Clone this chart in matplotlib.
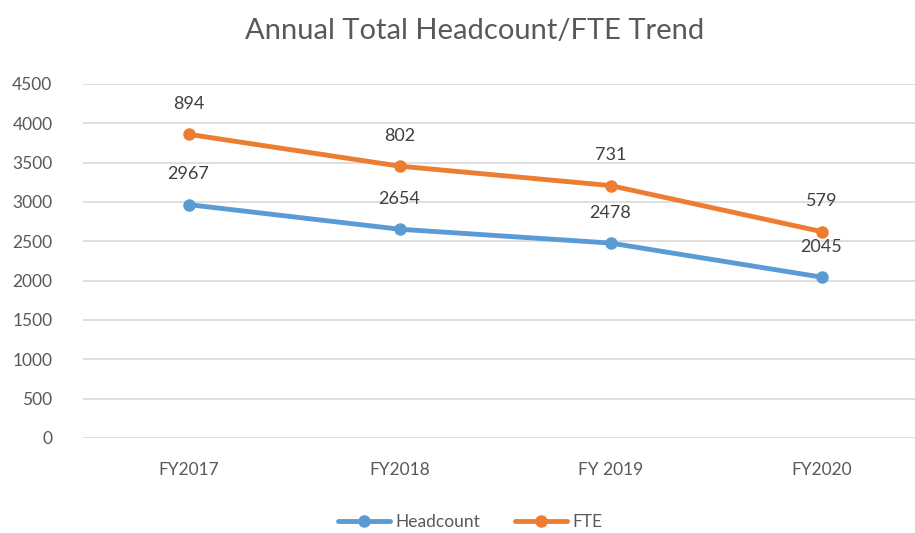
import numpy as np
import matplotlib
matplotlib.use("Agg")
import matplotlib.pyplot as plt

plt.rcParams['font.family'] = ['Lato', 'DejaVu Sans']

# Data (FTE series is stacked on top of Headcount, labels show raw values)
categories = ["FY2017", "FY2018", "FY 2019", "FY2020"]
headcount = [2967, 2654, 2478, 2045]
fte = [894, 802, 731, 579]

TEXT = '#595959'
BLUE = '#5B9BD5'
ORANGE = '#ED7D31'

fig = plt.figure(figsize=(9.15, 5.33), dpi=100)
ax = fig.add_axes([83 / 915, 1 - 438 / 533, 844 / 915, 354 / 533])

x = np.arange(len(categories))
fte_stacked = np.array(headcount) + np.array(fte)

ax.plot(x, headcount, color=BLUE, lw=3.5, marker='o', ms=8, label='Headcount',
        solid_capstyle='round', zorder=3)
ax.plot(x, fte_stacked, color=ORANGE, lw=3.5, marker='o', ms=8, label='FTE',
        solid_capstyle='round', zorder=3)

# data labels sit above each point
for xi, y, v in zip(x, headcount, headcount):
    ax.annotate(str(v), (xi, y), xytext=(0, 16), textcoords='offset points',
                ha='center', va='bottom', fontsize=13, color='#404040')
for xi, y, v in zip(x, fte_stacked, fte):
    ax.annotate(str(v), (xi, y), xytext=(0, 16), textcoords='offset points',
                ha='center', va='bottom', fontsize=13, color='#404040')

ax.set_xlim(-0.5, len(categories) - 0.5)
ax.set_ylim(0, 4500)
ax.set_yticks(np.arange(0, 4501, 500))
ax.set_xticks(x)
ax.set_xticklabels(categories)
ax.grid(axis='y', color='#D9D9D9', lw=1.2)
ax.set_axisbelow(True)
for s in ax.spines.values():
    s.set_visible(False)
ax.tick_params(length=0, colors=TEXT, labelsize=12.5)
ax.tick_params(axis='y', pad=22)
ax.tick_params(axis='x', pad=17)

fig.text(475 / 915, 1 - 31 / 533, 'Annual Total Headcount/FTE Trend', ha='center',
         va='center', fontsize=21, color=TEXT)

fig.legend(loc='center', bbox_to_anchor=(470 / 915, 1 - 522 / 533), ncol=2,
           frameon=False, fontsize=12.5, labelcolor=TEXT, handlelength=3,
           columnspacing=2, handletextpad=0.3)

fig.savefig('out.png', dpi=100, facecolor='white')
